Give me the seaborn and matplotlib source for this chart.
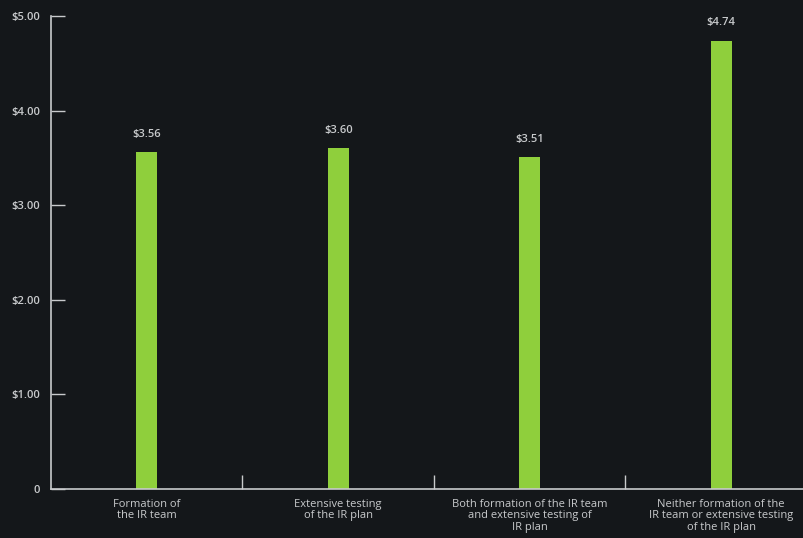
import matplotlib
matplotlib.use('Agg')
import matplotlib.pyplot as plt
import seaborn as sns
import pandas as pd
import numpy as np

categories = ['Formation of\nthe IR team',
              'Extensive testing\nof the IR plan',
              'Both formation of the IR team\nand extensive testing of\nIR plan',
              'Neither formation of the\nIR team or extensive testing\nof the IR plan']
values = [3.56, 3.60, 3.51, 4.74]
value_labels = ['$3.56', '$3.60', '$3.51', '$4.74']
ytick_vals = [0, 1, 2, 3, 4, 5]
ytick_labels = ['0', '$1.00', '$2.00', '$3.00', '$4.00', '$5.00']

bg = '#14171a'
fg = '#c8cacc'
green = '#8fcf3c'

sns.set_style('dark')
plt.rcParams['font.family'] = ['Open Sans', 'DejaVu Sans']

df = pd.DataFrame({'cat': categories, 'val': values})

fig = plt.figure(figsize=(8.04, 5.38), dpi=100, facecolor=bg)
ax = fig.add_axes([51/804, 49/538, 766/804, 473/538])
ax.set_facecolor(bg)

sns.barplot(data=df, x='cat', y='val', color=green, width=0.112,
            saturation=1, edgecolor='none', linewidth=0, ax=ax)

for i, (v, lab) in enumerate(zip(values, value_labels)):
    ax.text(i, v + 0.13, lab, ha='center', va='bottom', color=fg,
            fontsize=8, fontweight='semibold')

ax.set_xlim(-0.5, 3.5)
ax.set_ylim(0, 5)
ax.set_yticks(ytick_vals)
ax.set_yticklabels(ytick_labels, color=fg, fontsize=8, fontweight='semibold')
ax.set_xticks(range(4))
ax.set_xticklabels(categories, color=fg, fontsize=8, linespacing=1.05)
ax.tick_params(axis='x', which='major', bottom=True, length=0, pad=7)
ax.tick_params(axis='y', left=True, direction='in', length=10, color=fg, width=1, pad=8)
ax.set_xticks([0.5, 1.5, 2.5], minor=True)
ax.tick_params(axis='x', which='minor', bottom=True, direction='in', length=10, color=fg, width=1)
ax.set_xlabel('')
ax.set_ylabel('')
ax.grid(False)

for s in ['top', 'right']:
    ax.spines[s].set_visible(False)
for s in ['left', 'bottom']:
    ax.spines[s].set_visible(True)
    ax.spines[s].set_color(fg)
    ax.spines[s].set_linewidth(1.2)

fig.savefig('out.png', dpi=100, facecolor=bg)
